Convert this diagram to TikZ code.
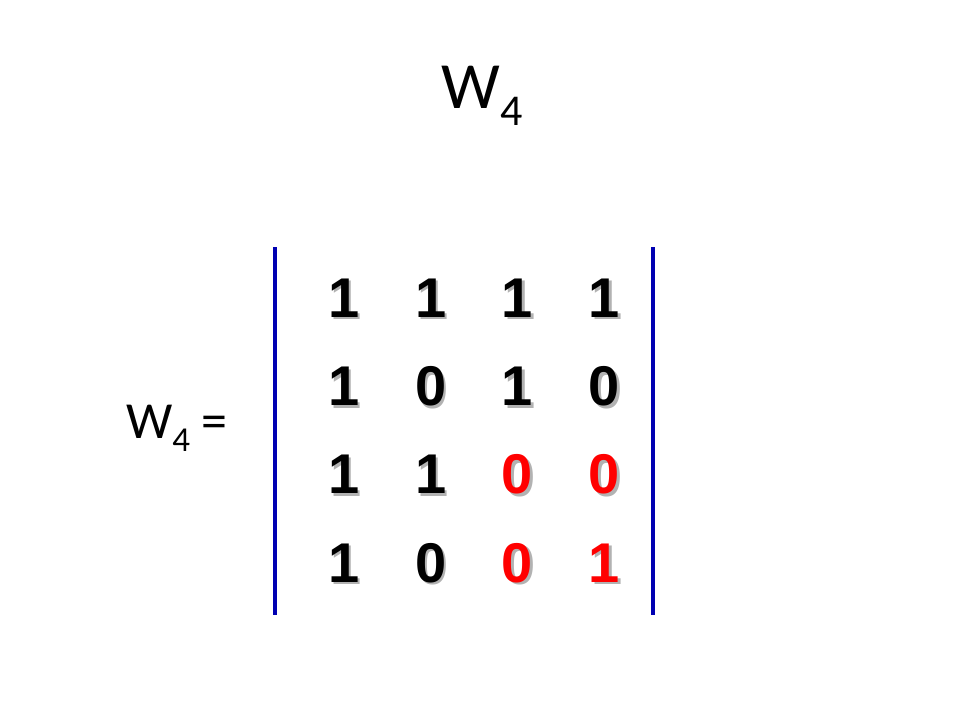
\documentclass[tikz,border=0pt]{standalone}
\usepackage{fontspec}
\setmainfont{Carlito}
\newfontfamily\digf{Liberation Sans}
\begin{document}
\begin{tikzpicture}[x=1pt,y=-1pt,
  dig/.style={font=\digf\fontsize{56}{60}\selectfont\bfseries,inner sep=0pt},
  bar/.style={draw=blue!70!black,line width=4pt}]
\useasboundingbox (0,0) rectangle (960,720);
\node (title) at (482,96) {\fontsize{66}{70}\selectfont W\raisebox{-0.25em}{\fontsize{44}{48}\selectfont 4}};
\node (lhs) at (177,428) {\fontsize{52}{56}\selectfont W\raisebox{-0.25em}{\fontsize{35}{38}\selectfont 4} =};
\coordinate (lt) at (275,247); \coordinate (lb) at (275,615);
\coordinate (rt) at (653,247); \coordinate (rb) at (653,615);
\draw[bar] (lt) -- (lb);
\draw[bar] (rt) -- (rb);
\foreach \r/\row in {0/{1,1,1,1},1/{1,0,1,0},2/{1,1,0,0},3/{1,0,0,1}}{
  \foreach \v [count=\c from 0] in \row {
    \pgfmathsetmacro\xx{344+86.7*\c}
    \pgfmathsetmacro\yy{298+88.3*\r}
    \pgfmathparse{(\r>=2 && \c>=2) ? 1 : 0}
    \ifnum\pgfmathresult=1 \def\col{red}\else\def\col{black}\fi
    \node[dig,text=gray!60] (s\r\c) at (\xx+2.5,\yy+2.5) {\v};
    \node[dig,text=\col] (m\r\c) at (\xx,\yy) {\v};
  }
}
\end{tikzpicture}
\end{document}
